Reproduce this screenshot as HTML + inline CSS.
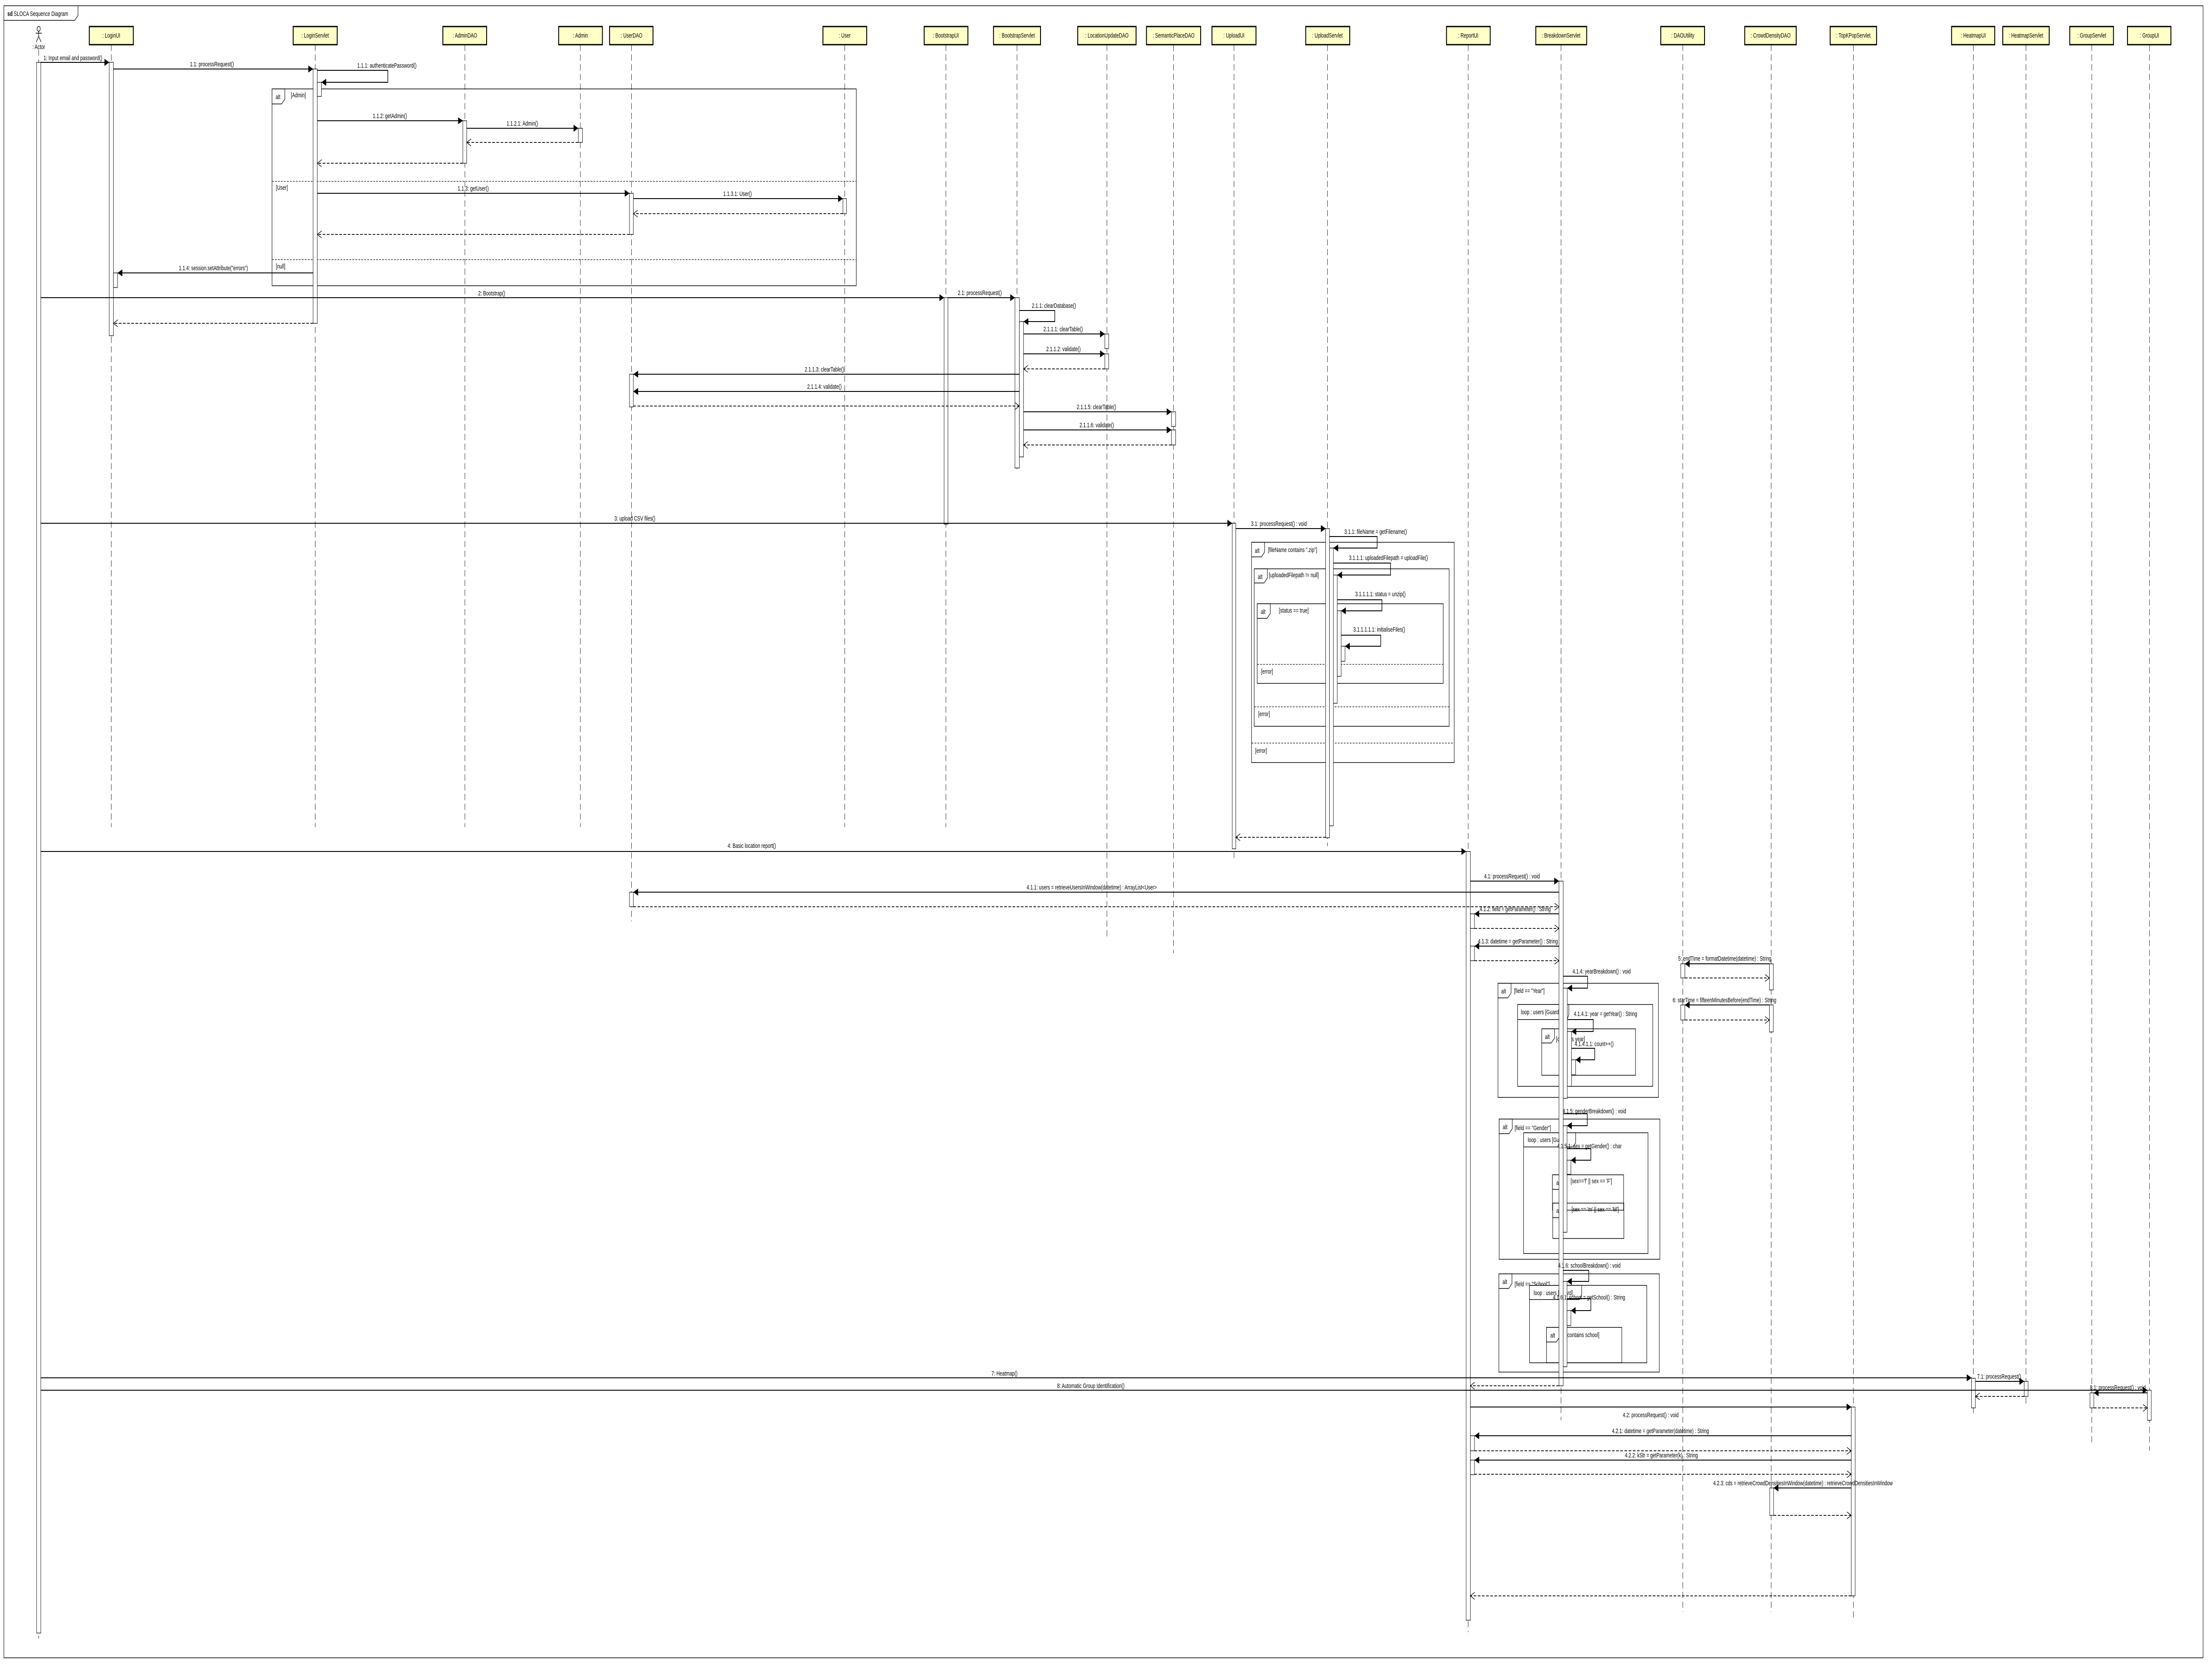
<!DOCTYPE html>
<html><head><meta charset="utf-8"><style>
html,body{margin:0;padding:0;background:#fff;overflow:hidden}
svg{display:block;width:100vw;height:100vh}
text{font-family:"Liberation Sans",Arial,sans-serif;font-size:15px;fill:#000}
.c{text-anchor:middle}
.l{stroke:#000;stroke-width:1.2;stroke-dasharray:14 8;fill:none}
.m{stroke:#000;stroke-width:2;fill:none;marker-end:url(#f)}
.r{stroke:#000;stroke-width:1.8;stroke-dasharray:9 5;fill:none;marker-end:url(#o)}
.a{fill:#fff;stroke:#000;stroke-width:1.3}
.fr{fill:none;stroke:#000;stroke-width:1.5}
.sep{stroke:#000;stroke-width:1.3;stroke-dasharray:6 4;fill:none}
.tab{fill:#fff;stroke:#000;stroke-width:1.5}
.bx{fill:#ffffc8;stroke:#000;stroke-width:3}
</style></head><body>
<svg viewBox="0 0 7432 3762" preserveAspectRatio="none" xmlns="http://www.w3.org/2000/svg">
<defs>
<marker id="f" markerUnits="userSpaceOnUse" markerWidth="18" markerHeight="18" refX="16" refY="8" orient="auto"><path d="M0,0 L16,8 L0,16 z" fill="#000"/></marker>
<marker id="o" markerUnits="userSpaceOnUse" markerWidth="18" markerHeight="18" refX="15" refY="8" orient="auto"><path d="M0,0 L15,8 L0,16" fill="none" stroke="#000" stroke-width="1.5"/></marker>
</defs>
<rect width="7432" height="3762" fill="#fff"/>
<rect x="13" y="13" width="7389" height="3735" class="fr"/>
<path d="M13,46 H251 L262,35 V13" class="fr"/>
<text x="25" y="36"><tspan font-weight="bold">sd</tspan> SLOCA Sequence Diagram</text>

<g class="l">
<line x1="130" y1="112" x2="130" y2="3705"/>
<line x1="374" y1="101" x2="374" y2="1870"/>
<line x1="1059" y1="101" x2="1059" y2="1870"/>
<line x1="1562" y1="101" x2="1562" y2="1870"/>
<line x1="1950" y1="101" x2="1950" y2="1870"/>
<line x1="2122" y1="101" x2="2122" y2="2083"/>
<line x1="2838" y1="101" x2="2838" y2="1870"/>
<line x1="3178" y1="101" x2="3178" y2="1870"/>
<line x1="3417" y1="101" x2="3417" y2="1062"/>
<line x1="3719" y1="101" x2="3719" y2="2123"/>
<line x1="3943" y1="101" x2="3943" y2="2155"/>
<line x1="4146" y1="101" x2="4146" y2="1940"/>
<line x1="4460" y1="101" x2="4460" y2="1913"/>
<line x1="4933" y1="101" x2="4933" y2="3690"/>
<line x1="5245" y1="101" x2="5245" y2="3211"/>
<line x1="5654" y1="101" x2="5654" y2="3644"/>
<line x1="5951" y1="101" x2="5951" y2="3644"/>
<line x1="6227" y1="101" x2="6227" y2="3657"/>
<line x1="6630" y1="101" x2="6630" y2="3202"/>
<line x1="6807" y1="101" x2="6807" y2="3177"/>
<line x1="7028" y1="101" x2="7028" y2="3265"/>
<line x1="7222" y1="101" x2="7222" y2="3280"/>
</g>

<rect x="300" y="60" width="148" height="41" class="bx"/><text x="374" y="85" class="c">: LoginUI</text>
<rect x="985" y="60" width="148" height="41" class="bx"/><text x="1059" y="85" class="c">: LoginServlet</text>
<rect x="1488" y="60" width="147" height="41" class="bx"/><text x="1562" y="85" class="c">: AdminDAO</text>
<rect x="1877" y="60" width="147" height="41" class="bx"/><text x="1950" y="85" class="c">: Admin</text>
<rect x="2048" y="60" width="146" height="41" class="bx"/><text x="2122" y="85" class="c">: UserDAO</text>
<rect x="2765" y="60" width="147" height="41" class="bx"/><text x="2838" y="85" class="c">: User</text>
<rect x="3105" y="60" width="147" height="41" class="bx"/><text x="3178" y="85" class="c">: BootstrapUI</text>
<rect x="3338" y="60" width="158" height="41" class="bx"/><text x="3417" y="85" class="c">: BootstrapServlet</text>
<rect x="3621" y="60" width="196" height="41" class="bx"/><text x="3719" y="85" class="c">: LocationUpdateDAO</text>
<rect x="3852" y="60" width="182" height="41" class="bx"/><text x="3943" y="85" class="c">: SemanticPlaceDAO</text>
<rect x="4072" y="60" width="148" height="41" class="bx"/><text x="4146" y="85" class="c">: UploadUI</text>
<rect x="4387" y="60" width="148" height="41" class="bx"/><text x="4460" y="85" class="c">: UploadServlet</text>
<rect x="4860" y="60" width="147" height="41" class="bx"/><text x="4933" y="85" class="c">: ReportUI</text>
<rect x="5160" y="60" width="171" height="41" class="bx"/><text x="5245" y="85" class="c">: BreakdownServlet</text>
<rect x="5580" y="60" width="147" height="41" class="bx"/><text x="5654" y="85" class="c">: DAOUtility</text>
<rect x="5862" y="60" width="173" height="41" class="bx"/><text x="5949" y="85" class="c">: CrowdDensityDAO</text>
<rect x="6149" y="60" width="156" height="41" class="bx"/><text x="6227" y="85" class="c">: TopKPopServlet</text>
<rect x="6557" y="60" width="145" height="41" class="bx"/><text x="6630" y="85" class="c">: HeatmapUI</text>
<rect x="6729" y="60" width="156" height="41" class="bx"/><text x="6807" y="85" class="c">: HeatmapServlet</text>
<rect x="6954" y="60" width="147" height="41" class="bx"/><text x="7028" y="85" class="c">: GroupServlet</text>
<rect x="7148" y="60" width="146" height="41" class="bx"/><text x="7222" y="85" class="c">: GroupUI</text>

<g stroke="#000" stroke-width="1.6" fill="none">
<circle cx="130" cy="65" r="5.5"/>
<line x1="130" y1="71" x2="130" y2="82"/>
<line x1="120" y1="75" x2="140" y2="75"/>
<line x1="130" y1="82" x2="122" y2="95"/>
<line x1="130" y1="82" x2="138" y2="95"/>
</g>
<text x="130" y="111" class="c">: Actor</text>

<rect x="914" y="201" width="1963" height="445" class="fr"/>
<path d="M914,201 H957 V224 L946,235 H914 Z" class="tab"/><text x="926" y="224">alt</text>
<text x="977" y="220">[Admin]</text>
<line x1="914" y1="410" x2="2877" y2="410" class="sep"/><text x="927" y="429">[User]</text>
<line x1="914" y1="587" x2="2877" y2="587" class="sep"/><text x="927" y="607">[null]</text>

<rect x="4205" y="1226" width="681" height="498" class="fr"/>
<path d="M4205,1226 H4249 V1248 L4238,1259 H4205 Z" class="tab"/><text x="4216" y="1250">alt</text>
<text x="4260" y="1248">[fileName contains ".zip"]</text>
<line x1="4205" y1="1680" x2="4886" y2="1680" class="sep"/><text x="4217" y="1702">[error]</text>

<rect x="4214" y="1286" width="655" height="356" class="fr"/>
<path d="M4214,1286 H4258 V1307 L4247,1318 H4214 Z" class="tab"/><text x="4226" y="1309">alt</text>
<text x="4263" y="1305">[uploadedFilepath != null]</text>
<line x1="4214" y1="1598" x2="4869" y2="1598" class="sep"/><text x="4227" y="1619">[error]</text>

<rect x="4224" y="1365" width="625" height="180" class="fr"/>
<path d="M4224,1365 H4268 V1387 L4257,1398 H4224 Z" class="tab"/><text x="4236" y="1388">alt</text>
<text x="4297" y="1385">[status == true]</text>
<line x1="4224" y1="1502" x2="4849" y2="1502" class="sep"/><text x="4237" y="1523">[error]</text>

<rect x="5033" y="2223" width="539" height="258" class="fr"/>
<path d="M5033,2223 H5077 V2245 L5066,2256 H5033 Z" class="tab"/><text x="5044" y="2246">alt</text>
<text x="5087" y="2245">[field == "Year"]</text>
<rect x="5099" y="2271" width="454" height="185" class="fr"/>
<path d="M5099,2271 H5271 V2294 L5265,2305 H5099 Z" class="tab"/><text x="5110" y="2293">loop : users  [Guard]</text>
<rect x="5180" y="2326" width="315" height="105" class="fr"/>
<path d="M5180,2326 H5223 V2347 L5212,2358 H5180 Z" class="tab"/><text x="5191" y="2349">alt</text>
<text x="5228" y="2354">[contains year]</text>

<rect x="5037" y="2530" width="540" height="317" class="fr"/>
<path d="M5037,2530 H5081 V2552 L5070,2563 H5037 Z" class="tab"/><text x="5049" y="2553">alt</text>
<text x="5089" y="2555">[field == "Gender"]</text>
<rect x="5119" y="2561" width="418" height="273" class="fr"/>
<path d="M5119,2561 H5294 V2583 L5286,2593 H5119 Z" class="tab"/><text x="5133" y="2582">loop : users  [Guard]</text>
<rect x="5216" y="2656" width="239" height="80" class="fr"/>
<path d="M5216,2656 H5261 V2678 L5250,2689 H5216 Z" class="tab"/><text x="5229" y="2679">alt</text>
<text x="5277" y="2675">[sex=='f' || sex == 'F']</text>
<rect x="5217" y="2720" width="239" height="80" class="fr"/>
<path d="M5217,2720 H5261 V2742 L5250,2753 H5217 Z" class="tab"/><text x="5229" y="2742">alt</text>
<text x="5280" y="2739">[sex == 'm' || sex == 'M']</text>

<rect x="5036" y="2880" width="539" height="222" class="fr"/>
<path d="M5036,2880 H5080 V2902 L5069,2913 H5036 Z" class="tab"/><text x="5048" y="2903">alt</text>
<text x="5089" y="2908">[field == "School"]</text>
<rect x="5139" y="2906" width="394" height="175" class="fr"/>
<path d="M5139,2906 H5314 V2928 L5306,2938 H5139 Z" class="tab"/><text x="5153" y="2928">loop : users  [Guard]</text>
<rect x="5196" y="3001" width="253" height="80" class="fr"/>
<path d="M5196,3001 H5240 V3023 L5229,3034 H5196 Z" class="tab"/><text x="5209" y="3024">alt</text>
<text x="5262" y="3023">[contains school]</text>

<rect x="123" y="141" width="14" height="3551" class="a"/>
<rect x="367" y="141" width="14" height="618" class="a"/>
<rect x="381" y="617" width="14" height="33" class="a"/>
<rect x="1052" y="156" width="14" height="575" class="a"/>
<rect x="1066" y="186" width="14" height="32" class="a"/>
<rect x="1555" y="273" width="13" height="96" class="a"/>
<rect x="1943" y="290" width="14" height="32" class="a"/>
<rect x="2115" y="437" width="13" height="93" class="a"/>
<rect x="2832" y="449" width="12" height="34" class="a"/>
<rect x="3172" y="673" width="13" height="512" class="a"/>
<rect x="3410" y="673" width="15" height="385" class="a"/>
<rect x="3425" y="727" width="14" height="306" class="a"/>
<rect x="3712" y="755" width="13" height="33" class="a"/>
<rect x="3712" y="800" width="13" height="34" class="a"/>
<rect x="2115" y="846" width="13" height="74" class="a"/>
<rect x="3936" y="931" width="14" height="33" class="a"/>
<rect x="3936" y="972" width="14" height="34" class="a"/>
<rect x="4140" y="1183" width="12" height="736" class="a"/>
<rect x="4454" y="1195" width="13" height="699" class="a"/>
<rect x="4467" y="1239" width="13" height="628" class="a"/>
<rect x="4480" y="1300" width="13" height="290" class="a"/>
<rect x="4493" y="1381" width="13" height="148" class="a"/>
<rect x="4506" y="1461" width="13" height="34" class="a"/>
<rect x="4926" y="1925" width="14" height="1738" class="a"/>
<rect x="5238" y="1992" width="14" height="1141" class="a"/>
<rect x="2115" y="2017" width="13" height="33" class="a"/>
<rect x="4940" y="2066" width="14" height="33" class="a"/>
<rect x="4940" y="2139" width="14" height="33" class="a"/>
<rect x="5647" y="2179" width="14" height="32" class="a"/>
<rect x="5945" y="2179" width="13" height="59" class="a"/>
<rect x="5647" y="2272" width="14" height="34" class="a"/>
<rect x="5945" y="2272" width="13" height="61" class="a"/>
<rect x="5252" y="2234" width="14" height="249" class="a"/>
<rect x="5266" y="2332" width="14" height="124" class="a"/>
<rect x="5280" y="2396" width="14" height="34" class="a"/>
<rect x="5252" y="2545" width="13" height="241" class="a"/>
<rect x="5265" y="2623" width="13" height="32" class="a"/>
<rect x="5252" y="2897" width="13" height="193" class="a"/>
<rect x="5265" y="2963" width="13" height="34" class="a"/>
<rect x="6624" y="3116" width="13" height="67" class="a"/>
<rect x="6801" y="3123" width="13" height="34" class="a"/>
<rect x="7215" y="3143" width="13" height="68" class="a"/>
<rect x="7022" y="3149" width="13" height="34" class="a"/>
<rect x="6220" y="3181" width="13" height="427" class="a"/>
<rect x="4940" y="3246" width="14" height="34" class="a"/>
<rect x="4940" y="3301" width="14" height="33" class="a"/>
<rect x="5946" y="3364" width="13" height="62" class="a"/>

<line x1="137" y1="141" x2="367" y2="141" class="m"/><text x="245" y="136" class="c">1: Input email and password()</text>
<line x1="381" y1="156" x2="1052" y2="156" class="m"/><text x="712" y="150" class="c">1.1: processRequest()</text>
<path d="M1066,159 H1303 V186 H1080" class="m"/><text x="1300" y="153" class="c">1.1.1: authenticatePassword()</text>
<line x1="1066" y1="273" x2="1555" y2="273" class="m"/><text x="1310" y="267" class="c">1.1.2: getAdmin()</text>
<line x1="1568" y1="290" x2="1943" y2="290" class="m"/><text x="1755" y="284" class="c">1.1.2.1: Admin()</text>
<line x1="1943" y1="322" x2="1568" y2="322" class="r"/>
<line x1="1555" y1="369" x2="1066" y2="369" class="r"/>
<line x1="1066" y1="437" x2="2115" y2="437" class="m"/><text x="1590" y="431" class="c">1.1.3: getUser()</text>
<line x1="2128" y1="449" x2="2832" y2="449" class="m"/><text x="2478" y="443" class="c">1.1.3.1: User()</text>
<line x1="2832" y1="483" x2="2128" y2="483" class="r"/>
<line x1="2115" y1="530" x2="1066" y2="530" class="r"/>
<line x1="1052" y1="617" x2="395" y2="617" class="m"/><text x="717" y="611" class="c">1.1.4: session.setAttribute("errors")</text>
<line x1="137" y1="673" x2="3172" y2="673" class="m"/><text x="1652" y="668" class="c">2: Bootstrap()</text>
<line x1="1052" y1="731" x2="381" y2="731" class="r"/>

<line x1="3185" y1="673" x2="3410" y2="673" class="m"/><text x="3292" y="667" class="c">2.1: processRequest()</text>
<path d="M3425,702 H3544 V727 H3439" class="m"/><text x="3541" y="696" class="c">2.1.1: clearDatabase()</text>
<line x1="3439" y1="755" x2="3712" y2="755" class="m"/><text x="3572" y="749" class="c">2.1.1.1: clearTable()</text>
<line x1="3439" y1="800" x2="3712" y2="800" class="m"/><text x="3573" y="794" class="c">2.1.1.2: validate()</text>
<line x1="3712" y1="834" x2="3439" y2="834" class="r"/>
<line x1="3425" y1="846" x2="2128" y2="846" class="m"/><text x="2770" y="840" class="c">2.1.1.3: clearTable()</text>
<line x1="3425" y1="885" x2="2128" y2="885" class="m"/><text x="2770" y="879" class="c">2.1.1.4: validate()</text>
<line x1="2128" y1="918" x2="3425" y2="918" class="r"/>
<line x1="3439" y1="931" x2="3936" y2="931" class="m"/><text x="3684" y="925" class="c">2.1.1.5: clearTable()</text>
<line x1="3439" y1="972" x2="3936" y2="972" class="m"/><text x="3685" y="966" class="c">2.1.1.6: validate()</text>
<line x1="3936" y1="1006" x2="3439" y2="1006" class="r"/>

<line x1="137" y1="1183" x2="4140" y2="1183" class="m"/><text x="2133" y="1177" class="c">3: upload CSV files()</text>
<line x1="4152" y1="1195" x2="4454" y2="1195" class="m"/><text x="4297" y="1189" class="c">3.1: processRequest() : void</text>
<path d="M4467,1213 H4627 V1239 H4480" class="m"/><text x="4622" y="1207" class="c">3.1.1: fileName = getFilename()</text>
<path d="M4480,1273 H4672 V1300 H4493" class="m"/><text x="4665" y="1266" class="c">3.1.1.1: uploadedFilepath = uploadFile()</text>
<path d="M4493,1356 H4643 V1381 H4506" class="m"/><text x="4638" y="1348" class="c">3.1.1.1.1: status = unzip()</text>
<path d="M4506,1436 H4639 V1461 H4519" class="m"/><text x="4634" y="1428" class="c">3.1.1.1.1.1: initialiseFiles()</text>
<line x1="4454" y1="1893" x2="4152" y2="1893" class="r"/>

<line x1="137" y1="1925" x2="4926" y2="1925" class="m"/><text x="2526" y="1917" class="c">4: Basic location report()</text>
<line x1="4940" y1="1992" x2="5238" y2="1992" class="m"/><text x="5080" y="1986" class="c">4.1: processRequest() : void</text>
<line x1="5238" y1="2017" x2="2128" y2="2017" class="m"/><text x="3668" y="2011" class="c">4.1.1: users = retrieveUsersInWindow(datetime) : ArrayList&lt;User&gt;</text>
<line x1="2128" y1="2050" x2="5238" y2="2050" class="r"/>
<line x1="5238" y1="2066" x2="4954" y2="2066" class="m"/><text x="5091" y="2060" class="c">4.1.2: field = getParameter() : String</text>
<line x1="4954" y1="2099" x2="5238" y2="2099" class="r"/>
<line x1="5238" y1="2139" x2="4954" y2="2139" class="m"/><text x="5100" y="2133" class="c">4.1.3: datetime = getParameter() : String</text>
<line x1="4954" y1="2172" x2="5238" y2="2172" class="r"/>
<line x1="5945" y1="2179" x2="5661" y2="2179" class="m"/><text x="5795" y="2172" class="c">5: endTime = formatDatetime(datetime) : String</text>
<line x1="5661" y1="2211" x2="5945" y2="2211" class="r"/>
<line x1="5945" y1="2272" x2="5661" y2="2272" class="m"/><text x="5794" y="2266" class="c">6: starTime = fifteenMinutesBefore(endTime) : String</text>
<line x1="5661" y1="2306" x2="5945" y2="2306" class="r"/>
<path d="M5252,2207 H5334 V2234 H5266" class="m"/><text x="5381" y="2201" class="c">4.1.4: yearBreakdown() : void</text>
<path d="M5266,2305 H5353 V2332 H5280" class="m"/><text x="5394" y="2297" class="c">4.1.4.1: year = getYear() : String</text>
<path d="M5280,2370 H5358 V2396 H5294" class="m"/><text x="5356" y="2365" class="c">4.1.4.1.1: count++()</text>
<path d="M5252,2518 H5333 V2545 H5265" class="m"/><text x="5357" y="2517" class="c">4.1.5: genderBreakdown() : void</text>
<path d="M5265,2597 H5345 V2623 H5278" class="m"/><text x="5340" y="2596" class="c">4.1.5.1: sex = getGender() : char</text>
<path d="M5252,2872 H5338 V2897 H5265" class="m"/><text x="5340" y="2866" class="c">4.1.6: schoolBreakdown() : void</text>
<path d="M5265,2936 H5345 V2963 H5278" class="m"/><text x="5339" y="2938" class="c">4.1.6.1: school = getSchool() : String</text>

<line x1="137" y1="3115" x2="6624" y2="3115" class="m"/><text x="3375" y="3110" class="c">7: Heatmap()</text>
<line x1="6637" y1="3123" x2="6801" y2="3123" class="m"/><text x="6643" y="3117">7.1: processRequest()</text>
<line x1="6801" y1="3157" x2="6637" y2="3157" class="r"/>
<line x1="5238" y1="3133" x2="4940" y2="3133" class="r"/>
<line x1="137" y1="3143" x2="7215" y2="3143" class="m"/><text x="3665" y="3138" class="c">8: Automatic Group Identification()</text>
<line x1="7215" y1="3149" x2="7035" y2="3149" class="m"/><text x="7022" y="3142">8.1: processRequest() : void</text>
<line x1="7035" y1="3183" x2="7215" y2="3183" class="r"/>

<line x1="4940" y1="3181" x2="6220" y2="3181" class="m"/><text x="5546" y="3204" class="c">4.2: processRequest() : void</text>
<line x1="6220" y1="3246" x2="4954" y2="3246" class="m"/><text x="5579" y="3240" class="c">4.2.1: datetime = getParameter(datetime) : String</text>
<line x1="4954" y1="3280" x2="6220" y2="3280" class="r"/>
<line x1="6220" y1="3301" x2="4954" y2="3301" class="m"/><text x="5582" y="3295" class="c">4.2.2: kStr = getParameter(k) : String</text>
<line x1="4954" y1="3333" x2="6220" y2="3333" class="r"/>
<line x1="6220" y1="3364" x2="5959" y2="3364" class="m"/><text x="5756" y="3358">4.2.3: cds = retrieveCrowdDensitiesInWindow(datetime) : retrieveCrowdDensitiesInWindow</text>
<line x1="5959" y1="3426" x2="6220" y2="3426" class="r"/>
<line x1="6220" y1="3608" x2="4940" y2="3608" class="r"/>
</svg>
</body></html>
